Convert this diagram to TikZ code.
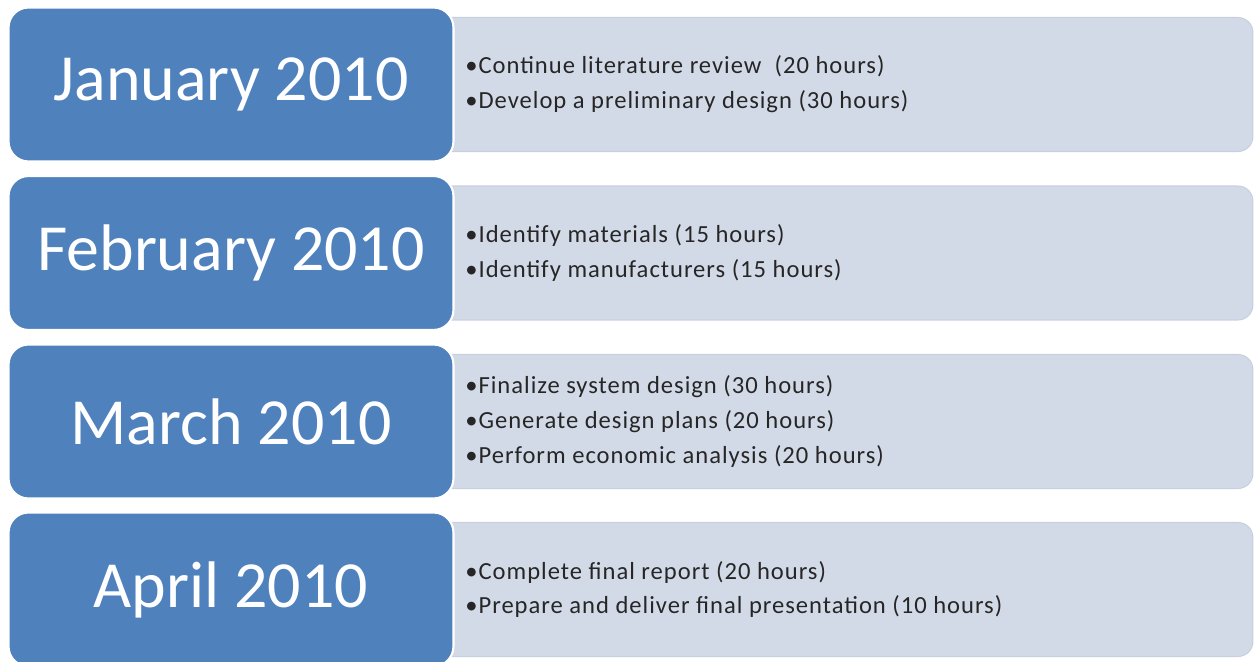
\documentclass[tikz,border=0pt]{standalone}
\usepackage{fontspec}
\setmainfont{Carlito}
\newfontfamily\taskfont[LetterSpace=4]{Carlito}
\definecolor{monthblue}{HTML}{4F81BD}
\definecolor{taskfill}{HTML}{D3DAE7}
\definecolor{taskedge}{HTML}{C8D0E0}
\pgfkeys{tikz/monthbox/.style={rectangle, rounded corners=0.4cm,
                                   fill=monthblue, draw=white, line width=1.2pt,
                                   minimum width=8.9cm, minimum height=3.08cm,
                                   inner sep=0pt, text=white,
                                   font=\fontsize{37.5}{42}\selectfont}}
\pgfkeys{tikz/taskbar/.style={rectangle, rounded corners=0.3cm,
                                  fill=taskfill, draw=taskedge, line width=0.6pt,
                                  minimum width=16.46cm, minimum height=2.68cm,
                                  inner sep=0pt}}
\pgfkeys{tikz/tasklist/.style={anchor=west, align=left, inner sep=0pt,
                                   text=black!85,
                                   font=\taskfont\fontsize{14}{19.9}\selectfont}}

\begin{document}
\begin{tikzpicture}[x=0.02cm, y=-0.02cm]
                \useasboundingbox (0,0) rectangle (1255,662);
                \clip (0,0) rectangle (1255,662);

                % grey bars behind the months
                \node[taskbar] (b1) at (841.5, 84.5) {};
                \node[taskbar] (b2) at (841.5, 253) {};
                \node[taskbar] (b3) at (841.5, 421.5) {};
                \node[taskbar] (b4) at (841.5, 589.5) {};

                \node[monthbox] (jan) at (231, 84.5) {January 2010};
                \node[monthbox] (feb) at (231, 253) {February 2010};
                \node[monthbox] (mar) at (231, 421.5) {March 2010};
                \node[monthbox] (apr) at (231, 589.5) {April 2010};

                \node[tasklist] (t1) at (465, 84.5) {%
                    •Continue literature review\ \ (20 hours)\\
                    •Develop a preliminary design (30 hours)};
                \node[tasklist] (t2) at (465, 253) {%
                    •Identify materials (15 hours)\\
                    •Identify manufacturers (15 hours)};
                \node[tasklist] (t3) at (465, 421.5) {%
                    •Finalize system design (30 hours)\\
                    •Generate design plans (20 hours)\\
                    •Perform economic analysis (20 hours)};
                \node[tasklist] (t4) at (465, 589.5) {%
                    •Complete final report\ (20 hours)\\
                    •Prepare and deliver final presentation (10 hours)};

            \end{tikzpicture}
\end{document}
